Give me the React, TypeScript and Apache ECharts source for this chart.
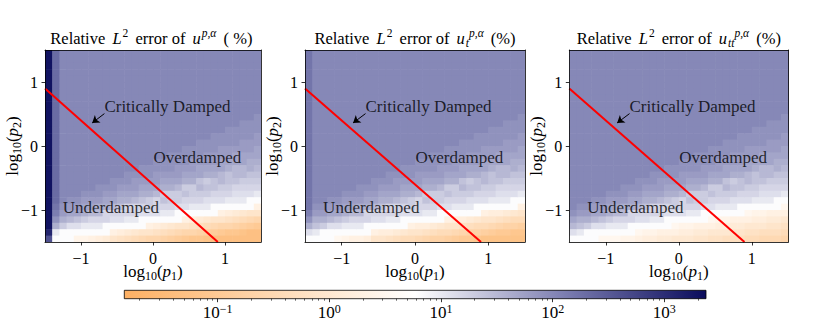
import React, { useEffect, useRef } from "react";
import * as echarts from "echarts";

const SERIF = "Liberation Serif";

// cell centres of the log10(p1) / log10(p2) grid
const X_CENTERS = [-1.45, -1.35, -1.25, -1.15, -1.05, -0.95, -0.85, -0.75, -0.65, -0.55, -0.45, -0.35, -0.25, -0.15, -0.05, 0.05, 0.15, 0.25, 0.35, 0.45, 0.55, 0.65, 0.75, 0.85, 0.95, 1.05, 1.15, 1.25, 1.35, 1.45];
const Y_CENTERS = [1.45, 1.35, 1.25, 1.15, 1.05, 0.95, 0.85, 0.75, 0.65, 0.55, 0.45, 0.35, 0.25, 0.15, 0.05, -0.05, -0.15, -0.25, -0.35, -0.45, -0.55, -0.65, -0.75, -0.85, -0.95, -1.05, -1.15, -1.25, -1.35, -1.45];
const AXIS_TICKS = [-1, 0, 1];

// critical damping line (log10 p1, log10 p2)
const CRIT_LOG_P1 = [-1.5, 0.9];
const CRIT_LOG_P2 = [0.9, -1.5];
const ARROW_FROM = [-0.675, 0.506];
const ARROW_TO = [-0.845, 0.36];
const REGION_LABELS = ["Critically Damped", "Overdamped", "Underdamped"];
const REGION_LABEL_POS = [[-0.682, 0.62], [0.0, -0.175], [-1.26, -0.966]];

// colour bar (relative error in %, log scale)
const CBAR_MIN = 0.01459;
const CBAR_MAX = 2360;
const LOG_MIN = -1.836;
const LOG_MAX = 3.373;
const CBAR_MAJOR = [0.1, 1, 10, 100, 1000];
const CBAR_MINOR = [0.02, 0.03, 0.04, 0.05, 0.06, 0.07, 0.08, 0.09, 0.2, 0.3, 0.4, 0.5, 0.6, 0.7, 0.8, 0.9, 2, 3, 4, 5, 6, 7, 8, 9, 20, 30, 40, 50, 60, 70, 80, 90, 200, 300, 400, 500, 600, 700, 800, 900, 2000];
const CMAP = ["#fdb063", "#fed8b1", "#ffffff", "#7f81b3", "#0a0c5c"];

// log10 of relative error (%). each inner array = one log10(p1) column, from log10(p2)=1.45 down to -1.45
const ERR_U = [
  [3.3,3.3,3.3,3.3,3.3, 3.3,3.3,3.3,3.3,3.3, 3.3,3.3,3.3,3.3,3.3, 3.3,3.3,3.3,3.3,3.3, 3.3,3.3,3.3,3.3,3.3, 3.3,3.3,3.3, 3.1,2.6],
  [2.3,2.3,2.3,2.3,2.3, 2.3,2.3,2.3,2.3,2.3, 2.3,2.3,2.3,2.3,2.3, 2.3,2.3,2.3,2.3,2.3, 2.3,2.3,2.3, 2.3,2.2,2.1,1.9,1.6,1.0,0.8],
  [2,2,2,2,2, 2,2,2,2,2, 2,2,2,2,2, 2,2,2,2,2, 2,2,2,2, 1.9,1.8,1.6,1.3,0.8,0.8],
  [2,2,2,2,2, 2,2,2,2,2, 2,2,2,2,2, 2,2,2,2,2, 2,2,2, 1.9,1.8,1.7,1.5,1.1,0.8,0.8],
  [2,2,2,2,2, 2,2,2,2,2, 2,2,2,2,2, 2,2,2,2,2, 2,2,2, 1.9,1.8,1.7,1.4,1.1,0.8,0.4],
  [2,2,2,2,2, 2,2,2,2,2, 2,2,2,2,2, 2,2,2,2,2, 2,2, 1.9,1.8,1.7,1.6,1.3,1.0,0.8,0.4],
  [2,2,2,2,2, 2,2,2,2,2, 2,2,2,2,2, 2,2,2,2,2, 2,2, 1.9,1.8,1.7,1.5,1.2,1.0,0.8,0.3],
  [2,2,2,2,2, 2,2,2,2,2, 2,2,2,2,2, 2,2,2,2,2, 2, 1.9,1.9,1.8,1.6,1.5,1.2,1.0,0.8,0.2],
  [2,2,2,2,2, 2,2,2,2,2, 2,2,2,2,2, 2,2,2,2,2, 2, 1.9,1.8,1.7,1.6,1.2,1.2,0.8,0.8,0.1],
  [2,2,2,2,2, 2,2,2,2,2, 2,2,2,2,2, 2,2,2,2,2, 1.9,1.9,1.8,1.7,1.5,1.2,1.1,0.8,0.3,-0.1],
  [2,2,2,2,2, 2,2,2,2,2, 2,2,2,2,2, 2,2,2,2,2, 1.9,1.8,1.7,1.6,1.4,1.2,1.1,0.8,0.2,-0.2],
  [2,2,2,2,2, 2,2,2,2,2, 2,2,2,2,2, 2,2,2,2, 1.9,1.9,1.8,1.7,1.6,1.2,1.2,1.0,0.8,0.1,-0.3],
  [2,2,2,2,2, 2,2,2,2,2, 2,2,2,2,2, 2,2,2,2, 1.9,1.8,1.8,1.7,1.5,1.2,1.2,1.0,0.8,0.0,-0.4],
  [2,2,2,2,2, 2,2,2,2,2, 2,2,2,2,2, 2,2,2, 1.9,1.9,1.8,1.7,1.6,1.4,1.2,1.1,0.8,0.8,-0.1,-0.5],
  [2,2,2,2,2, 2,2,2,2,2, 2,2,2,2,2, 2,2,2, 1.9,1.9,1.8,1.7,1.6,1.3,1.3,1.1,0.8,0.3,-0.1,-0.6],
  [2,2,2,2,2, 2,2,2,2,2, 2,2,2,2,2, 2,2, 1.9,1.9,1.8,1.8,1.7,1.5,1.2,1.2,1.1,0.8,0.2,-0.2,-0.6],
  [2,2,2,2,2, 2,2,2,2,2, 2,2,2,2,2, 2,2, 1.9,1.9,1.8,1.7,1.6,1.3,1.4,1.2,1.0,0.8,0.1,-0.3,-0.7],
  [2,2,2,2,2, 2,2,2,2,2, 2,2,2,2,2, 2, 1.9,1.9,1.9,1.8,1.7,1.6,1.3,1.3,1.2,1.0,0.8,0.0,-0.4,-0.8],
  [2,2,2,2,2, 2,2,2,2,2, 2,2,2,2,2, 2, 1.9,1.9,1.8,1.8,1.7,1.5,1.3,1.3,1.1,0.8,0.8,-0.1,-0.5,-0.9],
  [2,2,2,2,2, 2,2,2,2,2, 2,2,2,2,2, 1.9,1.9,1.9,1.8,1.7,1.6,1.3,1.4,1.2,1.1,0.8,0.3,-0.1,-0.6,-1.0],
  [2,2,2,2,2, 2,2,2,2,2, 2,2,2,2,2, 1.9,1.9,1.8,1.8,1.7,1.6,1.3,1.3,1.2,1.0,0.8,0.2,-0.2,-0.6,-1.1],
  [2,2,2,2,2, 2,2,2,2,2, 2,2,2,2, 1.9,1.9,1.9,1.8,1.7,1.7,1.4,1.5,1.3,1.2,1.0,0.8,0.1,-0.3,-0.7,-1.1],
  [2,2,2,2,2, 2,2,2,2,2, 2,2,2,2, 1.9,1.9,1.8,1.8,1.7,1.6,1.3,1.4,1.3,1.1,1.0,0.8,0.0,-0.4,-0.8,-1.2],
  [2,2,2,2,2, 2,2,2,2,2, 2,2,2, 1.9,1.9,1.9,1.8,1.8,1.7,1.6,1.4,1.4,1.2,1.1,0.8,0.8,-0.1,-0.5,-0.9,-1.3],
  [2,2,2,2,2, 2,2,2,2,2, 2,2,2, 1.9,1.9,1.8,1.8,1.7,1.7,1.5,1.5,1.3,1.2,1.1,0.8,0.3,-0.1,-0.6,-1.0,-1.3],
  [2,2,2,2,2, 2,2,2,2,2, 2,2, 1.9,1.9,1.9,1.8,1.8,1.7,1.6,1.4,1.4,1.3,1.2,1.0,0.8,0.2,-0.2,-0.6,-1.1,-1.3],
  [2,2,2,2,2, 2,2,2,2,2, 2,2, 1.9,1.9,1.9,1.8,1.7,1.7,1.5,1.5,1.4,1.2,1.1,1.0,0.8,0.1,-0.3,-0.7,-1.1,-1.3],
  [2,2,2,2,2, 2,2,2,2,2, 2, 1.9,1.9,1.9,1.8,1.8,1.7,1.7,1.5,1.5,1.3,1.2,1.1,1.0,0.8,0.0,-0.4,-0.8,-1.2,-1.3],
  [2,2,2,2,2, 2,2,2,2,2, 2, 1.9,1.9,1.9,1.8,1.8,1.7,1.6,1.6,1.4,1.3,1.2,1.1,0.8,0.8,-0.1,-0.5,-0.9,-1.3,-1.3],
  [2,2,2,2,2, 2,2,2,2,2, 1.9,1.9,1.9,1.8,1.8,1.7,1.7,1.6,1.5,1.4,1.3,1.2,1.0,0.8,0.3,-0.1,-0.6,-1.0,-1.3,-1.3],
];

const ERR_UT = [
  [2.2,2.2,2.2,2.2,2.2, 2.2,2.2,2.2,2.2,2.2, 2.2,2.2,2.2,2.2,2.2, 2.2,2.2,2.2,2.2,2.2, 2.2,2.2,2.2, 2.2,2.2,2.1,1.9,1.6,1.1,0.8],
  [2,2,2,2,2, 2,2,2,2,2, 2,2,2,2,2, 2,2,2,2,2, 2,2,2,2, 1.9,1.8,1.6,1.4,1.0,0.8],
  [2,2,2,2,2, 2,2,2,2,2, 2,2,2,2,2, 2,2,2,2,2, 2,2,2,2, 1.9,1.8,1.6,1.3,0.8,0.8],
  [2,2,2,2,2, 2,2,2,2,2, 2,2,2,2,2, 2,2,2,2,2, 2,2,2, 1.9,1.8,1.7,1.5,1.1,0.8,0.8],
  [2,2,2,2,2, 2,2,2,2,2, 2,2,2,2,2, 2,2,2,2,2, 2,2,2, 1.9,1.8,1.7,1.4,1.1,0.8,0.5],
  [2,2,2,2,2, 2,2,2,2,2, 2,2,2,2,2, 2,2,2,2,2, 2,2, 1.9,1.8,1.7,1.6,1.3,1.0,0.8,0.4],
  [2,2,2,2,2, 2,2,2,2,2, 2,2,2,2,2, 2,2,2,2,2, 2,2, 1.9,1.8,1.7,1.5,1.2,1.0,0.8,0.3],
  [2,2,2,2,2, 2,2,2,2,2, 2,2,2,2,2, 2,2,2,2,2, 2, 1.9,1.9,1.8,1.6,1.5,1.2,1.0,0.8,0.3],
  [2,2,2,2,2, 2,2,2,2,2, 2,2,2,2,2, 2,2,2,2,2, 2, 1.9,1.8,1.7,1.6,1.2,1.2,0.8,0.8,0.2],
  [2,2,2,2,2, 2,2,2,2,2, 2,2,2,2,2, 2,2,2,2,2, 1.9,1.9,1.8,1.7,1.5,1.2,1.1,0.8,0.3,-0.1],
  [2,2,2,2,2, 2,2,2,2,2, 2,2,2,2,2, 2,2,2,2,2, 1.9,1.8,1.7,1.6,1.4,1.2,1.1,0.8,0.2,-0.1],
  [2,2,2,2,2, 2,2,2,2,2, 2,2,2,2,2, 2,2,2,2, 1.9,1.9,1.8,1.7,1.6,1.2,1.2,1.0,0.8,0.2,-0.2],
  [2,2,2,2,2, 2,2,2,2,2, 2,2,2,2,2, 2,2,2,2, 1.9,1.8,1.8,1.7,1.5,1.2,1.2,1.0,0.8,0.1,-0.3],
  [2,2,2,2,2, 2,2,2,2,2, 2,2,2,2,2, 2,2,2, 1.9,1.9,1.8,1.7,1.6,1.4,1.2,1.1,0.8,0.8,0.0,-0.4],
  [2,2,2,2,2, 2,2,2,2,2, 2,2,2,2,2, 2,2,2, 1.9,1.9,1.8,1.7,1.6,1.3,1.3,1.1,0.8,0.3,-0.1,-0.4],
  [2,2,2,2,2, 2,2,2,2,2, 2,2,2,2,2, 2,2, 1.9,1.9,1.8,1.8,1.7,1.5,1.2,1.2,1.1,0.8,0.2,-0.1,-0.5],
  [2,2,2,2,2, 2,2,2,2,2, 2,2,2,2,2, 2,2, 1.9,1.9,1.8,1.7,1.6,1.3,1.4,1.2,1.0,0.8,0.2,-0.2,-0.6],
  [2,2,2,2,2, 2,2,2,2,2, 2,2,2,2,2, 2, 1.9,1.9,1.9,1.8,1.7,1.6,1.3,1.3,1.2,1.0,0.8,0.1,-0.3,-0.7],
  [2,2,2,2,2, 2,2,2,2,2, 2,2,2,2,2, 2, 1.9,1.9,1.8,1.8,1.7,1.5,1.3,1.3,1.1,0.8,0.8,0.0,-0.4,-0.7],
  [2,2,2,2,2, 2,2,2,2,2, 2,2,2,2,2, 1.9,1.9,1.9,1.8,1.7,1.6,1.3,1.4,1.2,1.1,0.8,0.3,-0.1,-0.4,-0.8],
  [2,2,2,2,2, 2,2,2,2,2, 2,2,2,2,2, 1.9,1.9,1.8,1.8,1.7,1.6,1.3,1.3,1.2,1.0,0.8,0.2,-0.1,-0.5,-0.9],
  [2,2,2,2,2, 2,2,2,2,2, 2,2,2,2, 1.9,1.9,1.9,1.8,1.7,1.7,1.4,1.5,1.3,1.2,1.0,0.8,0.2,-0.2,-0.6,-1.0],
  [2,2,2,2,2, 2,2,2,2,2, 2,2,2,2, 1.9,1.9,1.8,1.8,1.7,1.6,1.3,1.4,1.3,1.1,1.0,0.8,0.1,-0.3,-0.7,-1.0],
  [2,2,2,2,2, 2,2,2,2,2, 2,2,2, 1.9,1.9,1.9,1.8,1.8,1.7,1.6,1.4,1.4,1.2,1.1,0.8,0.8,0.0,-0.4,-0.7,-1.1],
  [2,2,2,2,2, 2,2,2,2,2, 2,2,2, 1.9,1.9,1.8,1.8,1.7,1.7,1.5,1.5,1.3,1.2,1.1,0.8,0.3,-0.1,-0.4,-0.8,-1.2],
  [2,2,2,2,2, 2,2,2,2,2, 2,2, 1.9,1.9,1.9,1.8,1.8,1.7,1.6,1.4,1.4,1.3,1.2,1.0,0.8,0.2,-0.1,-0.5,-0.9,-1.2],
  [2,2,2,2,2, 2,2,2,2,2, 2,2, 1.9,1.9,1.9,1.8,1.7,1.7,1.5,1.5,1.4,1.2,1.1,1.0,0.8,0.2,-0.2,-0.6,-1.0,-1.2],
  [2,2,2,2,2, 2,2,2,2,2, 2, 1.9,1.9,1.9,1.8,1.8,1.7,1.7,1.5,1.5,1.3,1.2,1.1,1.0,0.8,0.1,-0.3,-0.7,-1.0,-1.2],
  [2,2,2,2,2, 2,2,2,2,2, 2, 1.9,1.9,1.9,1.8,1.8,1.7,1.6,1.6,1.4,1.3,1.2,1.1,0.8,0.8,0.0,-0.4,-0.7,-1.1,-1.2],
  [2,2,2,2,2, 2,2,2,2,2, 1.9,1.9,1.9,1.8,1.8,1.7,1.7,1.6,1.5,1.4,1.3,1.2,1.0,0.8,0.3,-0.1,-0.4,-0.8,-1.1,-1.2],
];

const ERR_UTT = [
  [2,2,2,2,2, 2,2,2,2,2, 2,2,2,2,2, 2,2,2,2,2, 2,2,2,2,2, 1.9,1.7,1.5,1.1,0.8],
  [2,2,2,2,2, 2,2,2,2,2, 2,2,2,2,2, 2,2,2,2,2, 2,2,2,2, 1.9,1.8,1.6,1.4,1.0,0.8],
  [2,2,2,2,2, 2,2,2,2,2, 2,2,2,2,2, 2,2,2,2,2, 2,2,2,2, 1.9,1.8,1.6,1.3,0.8,0.8],
  [2,2,2,2,2, 2,2,2,2,2, 2,2,2,2,2, 2,2,2,2,2, 2,2,2, 1.9,1.8,1.7,1.5,1.1,0.8,0.8],
  [2,2,2,2,2, 2,2,2,2,2, 2,2,2,2,2, 2,2,2,2,2, 2,2,2, 1.9,1.8,1.7,1.4,1.1,0.8,0.5],
  [2,2,2,2,2, 2,2,2,2,2, 2,2,2,2,2, 2,2,2,2,2, 2,2, 1.9,1.8,1.7,1.6,1.3,1.0,0.8,0.5],
  [2,2,2,2,2, 2,2,2,2,2, 2,2,2,2,2, 2,2,2,2,2, 2,2, 1.9,1.8,1.7,1.5,1.2,1.0,0.8,0.5],
  [2,2,2,2,2, 2,2,2,2,2, 2,2,2,2,2, 2,2,2,2,2, 2, 1.9,1.9,1.8,1.6,1.5,1.2,1.0,0.8,0.4],
  [2,2,2,2,2, 2,2,2,2,2, 2,2,2,2,2, 2,2,2,2,2, 2, 1.9,1.8,1.7,1.6,1.2,1.2,0.8,0.8,0.4],
  [2,2,2,2,2, 2,2,2,2,2, 2,2,2,2,2, 2,2,2,2,2, 1.9,1.9,1.8,1.7,1.5,1.2,1.1,0.8,0.5,0.3],
  [2,2,2,2,2, 2,2,2,2,2, 2,2,2,2,2, 2,2,2,2,2, 1.9,1.8,1.7,1.6,1.4,1.2,1.1,0.8,0.4,0.2],
  [2,2,2,2,2, 2,2,2,2,2, 2,2,2,2,2, 2,2,2,2, 1.9,1.9,1.8,1.7,1.6,1.2,1.2,1.0,0.8,0.4,0.2],
  [2,2,2,2,2, 2,2,2,2,2, 2,2,2,2,2, 2,2,2,2, 1.9,1.8,1.8,1.7,1.5,1.2,1.2,1.0,0.8,0.3,0.1],
  [2,2,2,2,2, 2,2,2,2,2, 2,2,2,2,2, 2,2,2, 1.9,1.9,1.8,1.7,1.6,1.4,1.2,1.1,0.8,0.8,0.3,0.1],
  [2,2,2,2,2, 2,2,2,2,2, 2,2,2,2,2, 2,2,2, 1.9,1.9,1.8,1.7,1.6,1.3,1.3,1.1,0.8,0.5,0.3,0.0],
  [2,2,2,2,2, 2,2,2,2,2, 2,2,2,2,2, 2,2, 1.9,1.9,1.8,1.8,1.7,1.5,1.2,1.2,1.1,0.8,0.4,0.2,0.0],
  [2,2,2,2,2, 2,2,2,2,2, 2,2,2,2,2, 2,2, 1.9,1.9,1.8,1.7,1.6,1.3,1.4,1.2,1.0,0.8,0.4,0.2,0.0],
  [2,2,2,2,2, 2,2,2,2,2, 2,2,2,2,2, 2, 1.9,1.9,1.9,1.8,1.7,1.6,1.3,1.3,1.2,1.0,0.8,0.3,0.1,-0.1],
  [2,2,2,2,2, 2,2,2,2,2, 2,2,2,2,2, 2, 1.9,1.9,1.8,1.8,1.7,1.5,1.3,1.3,1.1,0.8,0.8,0.3,0.1,-0.1],
  [2,2,2,2,2, 2,2,2,2,2, 2,2,2,2,2, 1.9,1.9,1.9,1.8,1.7,1.6,1.3,1.4,1.2,1.1,0.8,0.5,0.3,0.0,-0.2],
  [2,2,2,2,2, 2,2,2,2,2, 2,2,2,2,2, 1.9,1.9,1.8,1.8,1.7,1.6,1.3,1.3,1.2,1.0,0.8,0.4,0.2,0.0,-0.2],
  [2,2,2,2,2, 2,2,2,2,2, 2,2,2,2, 1.9,1.9,1.9,1.8,1.7,1.7,1.4,1.5,1.3,1.2,1.0,0.8,0.4,0.2,0.0,-0.3],
  [2,2,2,2,2, 2,2,2,2,2, 2,2,2,2, 1.9,1.9,1.8,1.8,1.7,1.6,1.3,1.4,1.3,1.1,1.0,0.8,0.3,0.1,-0.1,-0.3],
  [2,2,2,2,2, 2,2,2,2,2, 2,2,2, 1.9,1.9,1.9,1.8,1.8,1.7,1.6,1.4,1.4,1.2,1.1,0.8,0.8,0.3,0.1,-0.1,-0.3],
  [2,2,2,2,2, 2,2,2,2,2, 2,2,2, 1.9,1.9,1.8,1.8,1.7,1.7,1.5,1.5,1.3,1.2,1.1,0.8,0.5,0.3,0.0,-0.2,-0.4],
  [2,2,2,2,2, 2,2,2,2,2, 2,2, 1.9,1.9,1.9,1.8,1.8,1.7,1.6,1.4,1.4,1.3,1.2,1.0,0.8,0.4,0.2,0.0,-0.2,-0.4],
  [2,2,2,2,2, 2,2,2,2,2, 2,2, 1.9,1.9,1.9,1.8,1.7,1.7,1.5,1.5,1.4,1.2,1.1,1.0,0.8,0.4,0.2,0.0,-0.3,-0.5],
  [2,2,2,2,2, 2,2,2,2,2, 2, 1.9,1.9,1.9,1.8,1.8,1.7,1.7,1.5,1.5,1.3,1.2,1.1,1.0,0.8,0.3,0.1,-0.1,-0.3,-0.5],
  [2,2,2,2,2, 2,2,2,2,2, 2, 1.9,1.9,1.9,1.8,1.8,1.7,1.6,1.6,1.4,1.3,1.2,1.1,0.8,0.8,0.3,0.1,-0.1,-0.3,-0.5],
  [2,2,2,2,2, 2,2,2,2,2, 1.9,1.9,1.9,1.8,1.8,1.7,1.7,1.6,1.5,1.4,1.3,1.2,1.0,0.8,0.5,0.3,0.0,-0.2,-0.4,-0.6],
];

const TITLES = [
  "Relative {i|L}{sup|2} error of {i|u}{supi|p,α} ( %)",
  "Relative {i|L}{sup|2} error of {i|u}{sub|t}{supi|p,α} (%)",
  "Relative {i|L}{sup|2} error of {i|u}{sub|tt}{supi|p,α} (%)",
];
const PANEL_DATA = [ERR_U, ERR_UT, ERR_UTT];

const GRIDS = [
  { left: 41.7, top: 50, width: 219.3, height: 192 },
  { left: 305, top: 50, width: 220, height: 192 },
  { left: 569.3, top: 50, width: 219, height: 192 },
];
const CBAR_GRID = { left: 124.3, top: 290.3, width: 581.7, height: 8.4 };

const HALF_X = (X_CENTERS[1] - X_CENTERS[0]) / 2;
const HALF_Y = (Y_CENTERS[0] - Y_CENTERS[1]) / 2;

function toCells(cols: number[][]) {
  const out: number[][] = [];
  cols.forEach((col, i) => col.forEach((v, j) => out.push([X_CENTERS[i], Y_CENTERS[j], v])));
  return out;
}

const fmtTick = (v: number) => (v < 0 ? "\u2212" + Math.abs(v) : String(v));

const NAME_RICH = {
  sub: { fontSize: 12, fontFamily: SERIF, verticalAlign: "bottom", lineHeight: 14, color: "#000" },
  i: { fontSize: 17, fontFamily: SERIF, fontStyle: "italic", lineHeight: 22, color: "#000" },
};

const TITLE_RICH = {
  i: { fontSize: 16.5, fontFamily: SERIF, fontStyle: "italic", lineHeight: 22, padding: [0, 1, 0, 3] },
  sup: { fontSize: 11.5, fontFamily: SERIF, verticalAlign: "top", lineHeight: 13, padding: [0, 3, 0, 0] },
  supi: { fontSize: 11.5, fontFamily: SERIF, fontStyle: "italic", verticalAlign: "top", lineHeight: 13, padding: [0, 3, 0, 0] },
  sub: { fontSize: 11.5, fontFamily: SERIF, fontStyle: "italic", verticalAlign: "bottom", lineHeight: 13 },
};

function buildOption() {
  const xAxis: any[] = [];
  const yAxis: any[] = [];
  const series: any[] = [];
  const frameLine = { show: true, onZero: false, lineStyle: { color: "#000", width: 0.8 } };

  GRIDS.forEach((_, k) => {
    xAxis.push({
      gridIndex: k, type: "value", min: -1.5, max: 1.5, position: "bottom", z: 10,
      axisLine: frameLine,
      axisTick: { show: true, length: 3.5, customValues: AXIS_TICKS, lineStyle: { color: "#000", width: 0.8 } },
      axisLabel: { customValues: AXIS_TICKS, formatter: fmtTick, color: "#000", fontFamily: SERIF, fontSize: 16, margin: 8 },
      splitLine: { show: false },
      name: "log{sub|10}({i|p}{sub|1})", nameLocation: "middle", nameGap: 18, nameMoveOverlap: false,
      nameTextStyle: { color: "#000", fontFamily: SERIF, fontSize: 17, lineHeight: 22, rich: NAME_RICH },
    });
    xAxis.push({
      gridIndex: k, type: "value", min: -1.5, max: 1.5, position: "top", z: 10,
      axisLine: frameLine, axisTick: { show: false }, axisLabel: { show: false }, splitLine: { show: false },
    });
    yAxis.push({
      gridIndex: k, type: "value", min: -1.5, max: 1.5, position: "left", z: 10,
      axisLine: frameLine,
      axisTick: { show: true, length: 3.5, customValues: AXIS_TICKS, lineStyle: { color: "#000", width: 0.8 } },
      axisLabel: { customValues: AXIS_TICKS, formatter: fmtTick, color: "#000", fontFamily: SERIF, fontSize: 16, margin: 7 },
      splitLine: { show: false },
      name: "log{sub|10}({i|p}{sub|2})", nameLocation: "middle", nameGap: 22, nameMoveOverlap: false,
      nameTextStyle: { color: "#000", fontFamily: SERIF, fontSize: 17, lineHeight: 22, rich: NAME_RICH },
    });
    yAxis.push({
      gridIndex: k, type: "value", min: -1.5, max: 1.5, position: "right", z: 10,
      axisLine: frameLine, axisTick: { show: false }, axisLabel: { show: false }, splitLine: { show: false },
    });
  });

  // colour bar axes
  xAxis.push({
    gridIndex: 3, type: "log", min: CBAR_MIN, max: CBAR_MAX, position: "bottom", z: 10,
    axisLine: { show: false },
    axisTick: { show: true, length: 3.5, customValues: CBAR_MAJOR, lineStyle: { color: "#000", width: 0.8 } },
    axisLabel: {
      customValues: CBAR_MAJOR, color: "#000", fontFamily: SERIF, fontSize: 17, margin: 4, lineHeight: 20,
      formatter: (v: number) => {
        const e = Math.round(Math.log10(v));
        return "10{sup|" + (e < 0 ? "\u2212" + -e : String(e)) + "}";
      },
      rich: { sup: { fontSize: 12, fontFamily: SERIF, verticalAlign: "top", lineHeight: 12, color: "#000" } },
    },
    splitLine: { show: false },
  });
  xAxis.push({
    gridIndex: 3, type: "log", min: CBAR_MIN, max: CBAR_MAX, position: "bottom", z: 10,
    axisLine: { show: false },
    axisTick: { show: true, length: 2, customValues: CBAR_MINOR, lineStyle: { color: "#000", width: 0.6 } },
    axisLabel: { show: false },
    splitLine: { show: false },
  });
  yAxis.push({ gridIndex: 3, type: "value", min: 0, max: 1, show: false });

  // heatmaps (series 0..2)
  PANEL_DATA.forEach((cols, k) => {
    series.push({
      type: "custom", xAxisIndex: 2 * k, yAxisIndex: 2 * k, clip: true, silent: true, z: 1,
      encode: { x: 0, y: 1 },
      data: toCells(cols),
      renderItem: (_p: any, api: any) => {
        const x = api.value(0), y = api.value(1);
        const a = api.coord([x - HALF_X, y + HALF_Y]);
        const b = api.coord([x + HALF_X, y - HALF_Y]);
        return {
          type: "rect",
          shape: { x: a[0], y: a[1], width: b[0] - a[0] + 0.6, height: b[1] - a[1] + 0.6 },
          style: { fill: api.visual("color") },
        };
      },
    });
  });

  // colour bar
  series.push({
    type: "custom", xAxisIndex: 6, yAxisIndex: 6, silent: true, z: 1,
    encode: { x: [0, 2], y: [1, 3] },
    data: [[CBAR_MIN, 0, CBAR_MAX, 1]],
    renderItem: (_p: any, api: any) => {
      const a = api.coord([api.value(0), api.value(3)]);
      const b = api.coord([api.value(2), api.value(1)]);
      return {
        type: "rect",
        shape: { x: a[0], y: a[1], width: b[0] - a[0], height: b[1] - a[1] },
        style: {
          fill: new echarts.graphic.LinearGradient(0, 0, 1, 0,
            CMAP.map((c, i) => ({ offset: i / (CMAP.length - 1), color: c }))),
          stroke: "#000", lineWidth: 0.8,
        },
      };
    },
  });

  GRIDS.forEach((_, k) => {
    series.push({
      type: "line", xAxisIndex: 2 * k, yAxisIndex: 2 * k, symbol: "none", silent: true, z: 5,
      data: CRIT_LOG_P1.map((x, i) => [x, CRIT_LOG_P2[i]]),
      lineStyle: { color: "#ff0000", width: 2 },
    });
    series.push({
      type: "scatter", xAxisIndex: 2 * k, yAxisIndex: 2 * k, silent: true, z: 6,
      symbolSize: 1, itemStyle: { color: "rgba(0,0,0,0)" },
      data: REGION_LABELS.map((t, i) => ({ name: t, value: REGION_LABEL_POS[i] })),
      label: { show: true, position: "right", distance: 0, formatter: "{b}", color: "#000", fontFamily: SERIF, fontSize: 17 },
      markLine: {
        silent: true, symbol: ["none", "arrow"], symbolSize: 7,
        lineStyle: { color: "#000", width: 1, type: "solid" },
        label: { show: false },
        data: [[{ coord: ARROW_FROM }, { coord: ARROW_TO }]],
      },
    });
  });

  return {
    animation: false,
    textStyle: { fontFamily: SERIF },
    grid: [...GRIDS, CBAR_GRID],
    xAxis, yAxis,
    visualMap: {
      type: "continuous", show: false, dimension: 2, seriesIndex: [0, 1, 2],
      min: LOG_MIN, max: LOG_MAX, inRange: { color: CMAP },
    },
    series,
    graphic: TITLES.map((t, k) => ({
      type: "text", x: GRIDS[k].left + GRIDS[k].width / 2, y: 38, z: 20,
      style: {
        text: t, rich: TITLE_RICH, fontSize: 16.5, fontFamily: SERIF, fill: "#000",
        align: "center", verticalAlign: "middle", lineHeight: 22,
      },
    })),
  };
}

export default function App() {
  const ref = useRef<HTMLDivElement>(null);
  useEffect(() => {
    if (!ref.current) return;
    const chart = echarts.init(ref.current, undefined, { renderer: "svg" });
    chart.setOption(buildOption() as any);
    return () => chart.dispose();
  }, []);
  return (
    <div style={{ position: "absolute", left: 0, top: 0, width: 830, height: 332, background: "#fff" }}>
      <div ref={ref} style={{ width: 830, height: 332 }} />
    </div>
  );
}
